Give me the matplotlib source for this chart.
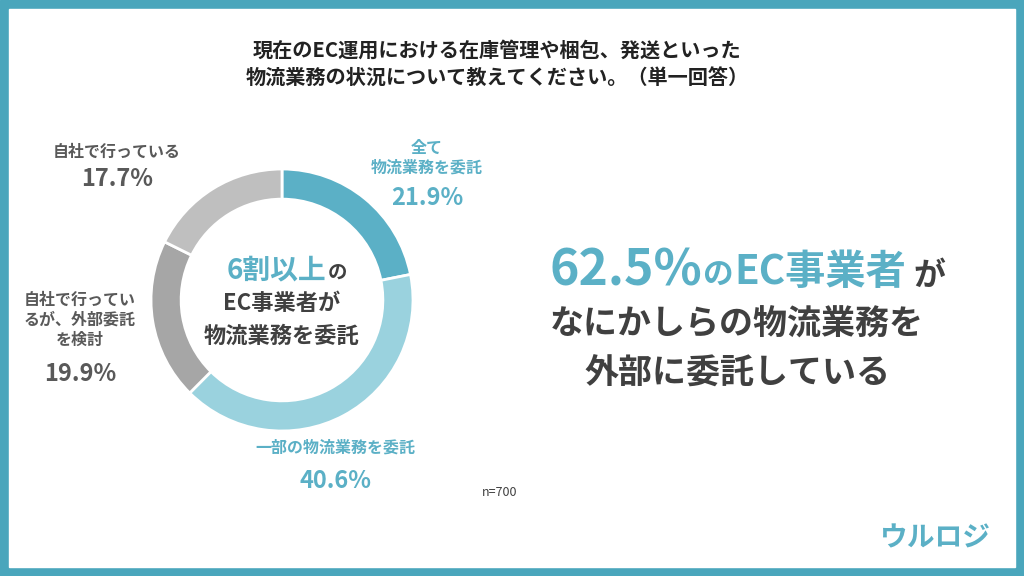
import matplotlib.pyplot as plt
from matplotlib.patches import Rectangle

plt.rcParams["font.family"] = "Noto Sans CJK JP"

labels = ["全て\n物流業務を委託", "一部の物流業務を委託", "自社で行ってい\nるが、外部委託\nを検討", "自社で行っている"]
values = [21.9, 40.6, 19.9, 17.7]
colors = ["#5BB0C6", "#9AD2DE", "#A6A6A6", "#BFBFBF"]
label_colors = ["#5BB0C6", "#5BB0C6", "#595959", "#595959"]

W, H = 1024, 576
fig = plt.figure(figsize=(W / 100, H / 100), dpi=100)
bg = fig.add_axes([0, 0, 1, 1])
bg.set_xlim(0, W)
bg.set_ylim(H, 0)
bg.axis("off")
bg.add_patch(Rectangle((0, 0), W, H, color="#4AA6BC"))
bg.add_patch(Rectangle((9, 9), W - 18, H - 18, color="white"))

bg.text(497, 64, "現在のEC運用における在庫管理や梱包、発送といった\n物流業務の状況について教えてください。（単一回答）",
        ha="center", va="center", fontsize=14.5, fontweight="bold", color="#222222", linespacing=1.45)

# donut
cx, cy, r = 282, 300, 131
ax = fig.add_axes([(cx - r) / W, 1 - (cy + r) / H, 2 * r / W, 2 * r / H])
ax.pie(values, colors=colors, startangle=90, counterclock=False, radius=1,
       wedgeprops=dict(width=0.23, edgecolor="white", linewidth=2))
ax.set_xlim(-1, 1)
ax.set_ylim(-1, 1)
ax.set_aspect("equal")
ax.axis("off")

bg.text(326, 270, "6割以上", ha="right", va="center", fontsize=20, fontweight="bold", color="#5BB0C6")
bg.text(328, 273, "の", ha="left", va="center", fontsize=14, fontweight="bold", color="#404040")
bg.text(282, 304, "EC事業者が", ha="center", va="center", fontsize=16, fontweight="bold", color="#404040")
bg.text(282, 336, "物流業務を委託", ha="center", va="center", fontsize=16, fontweight="bold", color="#404040")

# slice labels
pos = [(427, 158, 198), (335, 448, 481), (80, 320, 374), (117, 152, 179)]
for (x, y1, y2), lab, v, c in zip(pos, labels, values, label_colors):
    bg.text(x, y1, lab, ha="center", va="center", fontsize=11.5, fontweight="bold", color=c, linespacing=1.3)
    bg.text(x, y2, f"{v}%", ha="center", va="center", fontsize=17, fontweight="bold", color=c)

# headline
bg.text(702, 271, "62.5%", ha="right", va="center", fontsize=36, fontweight="bold", color="#5BB0C6")
bg.text(702, 276, "の", ha="left", va="center", fontsize=22, fontweight="bold", color="#5BB0C6")
bg.text(734, 273, "EC事業者", ha="left", va="center", fontsize=29, fontweight="bold", color="#5BB0C6")
bg.text(913, 276, "が", ha="left", va="center", fontsize=23, fontweight="bold", color="#404040")
bg.text(737, 324, "なにかしらの物流業務を", ha="center", va="center", fontsize=24.5, fontweight="bold", color="#404040")
bg.text(737, 373, "外部に委託している", ha="center", va="center", fontsize=24.5, fontweight="bold", color="#404040")

bg.text(500, 492, "n=700", ha="center", va="center", fontsize=9, color="#404040")
bg.text(935, 538, "ウルロジ", ha="center", va="center", fontsize=20, fontweight="bold",
        color="#5BB0C6", style="italic")

fig.savefig("out.png", dpi=100)
